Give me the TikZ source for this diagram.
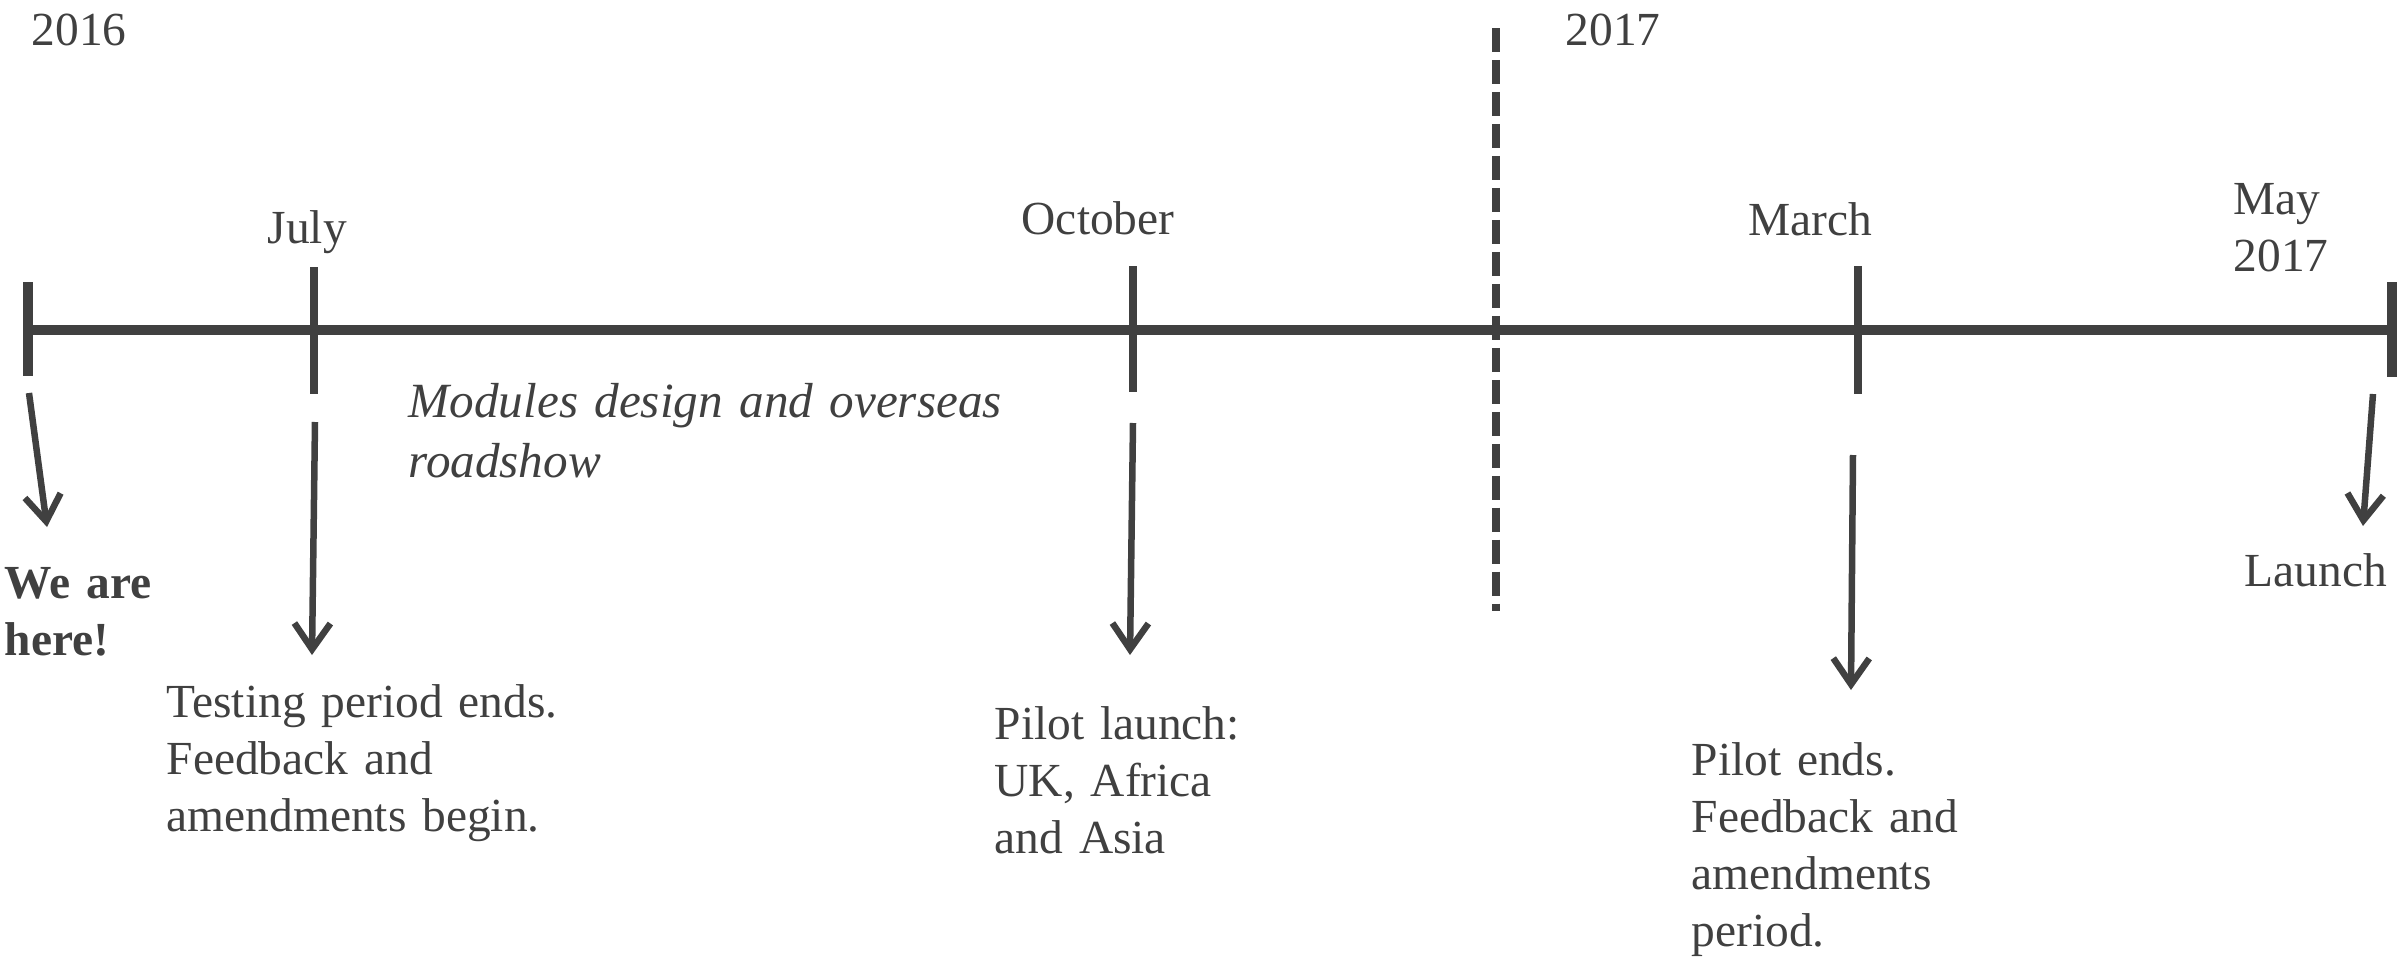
\documentclass[tikz,border=0pt]{standalone}
\usepackage{fontspec}
\setmainfont{Liberation Serif}
\usepackage{tikz}
\usetikzlibrary{arrows.meta}
\definecolor{inkgray}{RGB}{64,64,64}
\tikzset{
  axisline/.style={line width=2.85pt,draw=inkgray},
  endbar/.style={line width=3.1pt,draw=inkgray},
  monthtick/.style={line width=2pt,draw=inkgray},
  yearsplit/.style={line width=2.3pt,draw=inkgray,dash pattern=on 6.8pt off 2.3pt},
  pointer/.style={-{Straight Barb[length=2.6mm,width=3.6mm]},line width=1.85pt,draw=inkgray},
  lbl/.style={anchor=base west,inner sep=0pt,text=inkgray,text width=6cm,align=left,
    font=\fontsize{13.5}{16.3}\selectfont}
}

\begin{document}
\begin{tikzpicture}[
  yearlbl/.style={lbl},
  monthlbl/.style={lbl},
  eventlbl/.style={lbl},
  periodlbl/.style={lbl,font=\fontsize{14}{17.2}\selectfont\itshape}
]
\useasboundingbox (0,0) rectangle (24.03,9.57);

% timeline
\coordinate (start) at (0.28,6.27);
\coordinate (finish) at (23.92,6.27);
\draw[axisline] (start) -- (finish);
\draw[endbar] (0.28,6.75) -- (0.28,5.81);
\draw[endbar] (23.92,6.75) -- (23.92,5.80);

\draw[monthtick] (3.14,6.90) -- (3.14,5.63);
\draw[monthtick] (11.33,6.91) -- (11.33,5.65);
\draw[monthtick] (18.58,6.91) -- (18.58,5.63);

\coordinate (splittop) at (14.96,9.29);
\coordinate (splitbot) at (14.96,3.46);
\draw[yearsplit] (splittop) -- (splitbot);

% years and months
\node[yearlbl] (y2016) at (0.31,9.12) {2016};
\node[yearlbl] (y2017) at (15.65,9.12) {2017};
\node[monthlbl] (jul) at (2.67,7.14) {July};
\node[monthlbl] (oct) at (10.21,7.23) {October};
\node[monthlbl] (mar) at (17.48,7.22) {March};
\node[monthlbl] (may) at (22.33,7.43) {May\\2017};

\node[periodlbl] (modules) at (4.08,5.40)
  {Modules design and overseas\\roadshow};

% events
\node[eventlbl,font=\fontsize{13.5}{16.3}\selectfont\bfseries] (here) at (0.04,3.59)
  {We are\\here!};
\node[eventlbl] (testing) at (1.66,2.40)
  {Testing period ends.\\Feedback and\\amendments begin.};
\node[eventlbl] (pilot) at (9.94,2.18)
  {Pilot launch:\\UK, Africa\\and Asia};
\node[eventlbl] (launch) at (22.44,3.71) {Launch};
\node[eventlbl] (pilotend) at (16.91,1.82)
  {Pilot ends.\\Feedback and\\amendments\\period.};

\coordinate (hereA) at (0.29,5.64);  \coordinate (hereB) at (0.47,4.30);
\coordinate (julA) at (3.15,5.35);   \coordinate (julB) at (3.12,3.02);
\coordinate (octA) at (11.33,5.34);  \coordinate (octB) at (11.30,3.02);
\coordinate (marA) at (18.53,5.02);  \coordinate (marB) at (18.51,2.67);
\coordinate (mayA) at (23.73,5.63);  \coordinate (mayB) at (23.63,4.31);

\draw[pointer] (hereA) -- (hereB);
\draw[pointer] (julA) -- (julB);
\draw[pointer] (octA) -- (octB);
\draw[pointer] (marA) -- (marB);
\draw[pointer] (mayA) -- (mayB);

\end{tikzpicture}
\end{document}
